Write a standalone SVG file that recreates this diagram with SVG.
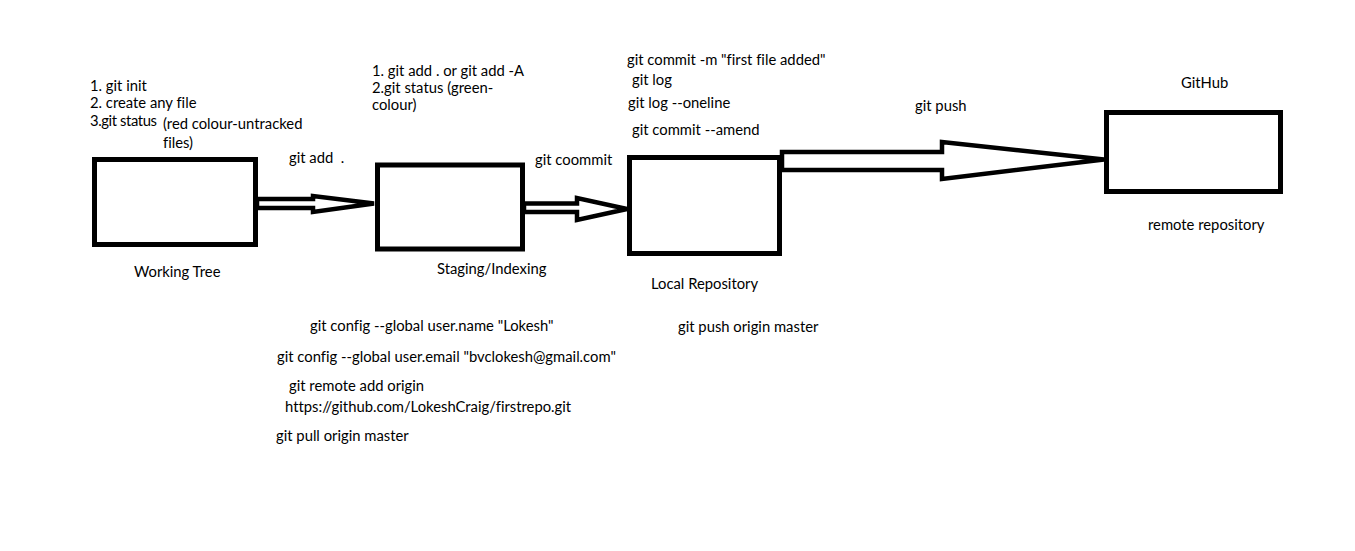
<svg xmlns="http://www.w3.org/2000/svg" width="1355" height="551" viewBox="0 0 1355 551">
<style>
.box{fill:#fff;stroke:#000;stroke-width:5}
.arr{fill:#fff;stroke:#000;stroke-width:4.5;stroke-linejoin:miter}
text{font-family:Lato,"Open Sans","Liberation Sans",sans-serif;font-size:14.8px;fill:#000;font-variant-ligatures:none}
</style>
<rect width="1355" height="551" fill="#fff"/>
<g id="connectors">
<polygon class="arr" points="257,199 313,199 313,196 374,203.5 313,212 313,208 257,208"/>
<polygon class="arr" points="524,203.5 577,203.5 577,198 627,209 577,220 577,212 524,212"/>
<polygon class="arr" points="782,170 782,152 942,152 942,142 1104,159.5 942,179 942,170"/>
</g>
<g id="working-tree">
<rect class="box" x="94.5" y="159.5" width="161" height="85"/>
<text x="134" y="277">Working Tree</text>
</g>
<g id="staging">
<rect class="box" x="377.5" y="165" width="145" height="84"/>
<text x="437" y="274">Staging/Indexing</text>
</g>
<g id="local-repo">
<rect class="box" x="629.5" y="157.5" width="150" height="96"/>
<text x="651" y="289">Local Repository</text>
</g>
<g id="github">
<rect class="box" x="1106.5" y="112.5" width="174" height="79"/>
<text x="1181" y="88">GitHub</text>
<text x="1148" y="230">remote repository</text>
</g>
<g id="labels">
<text x="90" y="91">1. git init</text>
<text x="90" y="108">2. create any file</text>
<text x="90" y="126" textLength="67">3.git status</text>
<text x="163" y="129">(red colour-untracked</text>
<text x="163" y="148">files)</text>
<text x="289" y="163" xml:space="preserve">git add  .</text>
<text x="372" y="76">1. git add . or git add -A</text>
<text x="372" y="93">2.git status (green-</text>
<text x="372" y="110">colour)</text>
<text x="535" y="165">git coommit</text>
<text x="627" y="65">git commit -m "first file added"</text>
<text x="632" y="85">git log</text>
<text x="628" y="108">git log --oneline</text>
<text x="632" y="135">git commit --amend</text>
<text x="915" y="111">git push</text>
<text x="310" y="331">git config --global user.name "Lokesh"</text>
<text x="277" y="362">git config --global user.email "bvclokesh@gmail.com"</text>
<text x="289" y="391">git remote add origin</text>
<text x="285" y="412">https://github.com/LokeshCraig/firstrepo.git</text>
<text x="276" y="441">git pull origin master</text>
<text x="678" y="332">git push origin master</text>
</g>
</svg>
